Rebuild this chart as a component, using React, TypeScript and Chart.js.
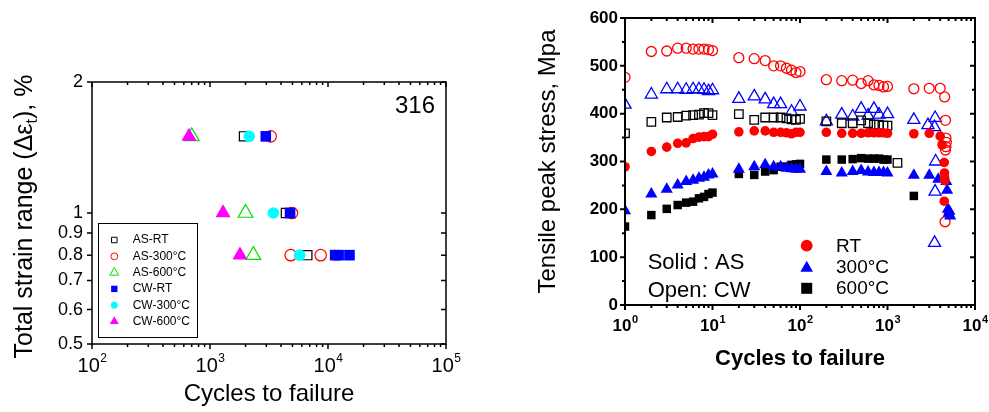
import React, { useEffect, useRef } from "react";
import { Chart, registerables } from "chart.js";

Chart.register(...registerables);

const FONT = "'Liberation Sans', Arial, Helvetica, sans-serif";

// ================= Left panel: total strain range vs cycles to failure (316) =================
const leftPanelLabel = "316";
const leftXTicks = [100, 1000, 10000, 100000];
const leftYTicks = [0.5, 0.6, 0.7, 0.8, 0.9, 1, 2];
const leftYTickLabels = ["0.5", "0.6", "0.7", "0.8", "0.9", "1", "2"];
const leftXTitle = "Cycles to failure";

const leftAsRtCycles = [1940, 4400, 6680];
const leftAsRtStrain = [1.5, 1.0, 0.8];
const leftAs300Cycles = [3270, 4950, 4830, 8670];
const leftAs300Strain = [1.5, 1.0, 0.8, 0.8];
const leftAs600Cycles = [700, 2000, 2330];
const leftAs600Strain = [1.5, 1.0, 0.8];
const leftCwRtCycles = [2970, 4770, 11500, 12300, 15200];
const leftCwRtStrain = [1.5, 1.0, 0.8, 0.8, 0.8];
const leftCw300Cycles = [2150, 3440, 5750];
const leftCw300Strain = [1.5, 1.0, 0.8];
const leftCw600Cycles = [664, 1290, 1795];
const leftCw600Strain = [1.5, 1.0, 0.8];

// ================= Right panel: tensile peak stress vs cycles =================
const rightXTicks = [1, 10, 100, 1000, 10000];
const rightYTicks = [0, 100, 200, 300, 400, 500, 600];
const rightYMinor = [50, 150, 250, 350, 450, 550];
const rightXTitle = "Cycles to failure";
const rightYTitle = "Tensile peak stress, Mpa";
const rightLegendLabels = ["RT", "300°C", "600°C"];
const rightNoteLines = ["Solid : AS", "Open: CW"];

// Solid (AS)
const peakAsRtN = [1, 2, 3, 4, 5, 6, 7, 8, 9, 10, 20, 30, 40, 50, 60, 70, 80, 90, 100, 200, 300, 400, 500, 600, 700, 800, 900, 1000, 2000, 3000, 4000, 4200, 4450, 4480, 4500, 4520, 4450];
const peakAsRtStress = [289, 321, 330, 338, 339, 348, 351, 352, 352, 357, 362, 364, 364, 361, 361, 360, 358, 361, 361, 361, 359, 359, 359, 360, 360, 360, 360, 359, 358, 359, 353, 335, 298, 276, 266, 260, 217];
const peakAs300N = [1, 2, 3, 4, 5, 6, 7, 8, 9, 10, 20, 30, 40, 50, 60, 70, 80, 90, 100, 200, 300, 400, 500, 600, 700, 800, 900, 1000, 2000, 3000, 3800, 4700, 4800, 4900, 5000, 5200, 5100];
const peakAs300Stress = [197, 232, 242, 251, 258, 261, 265, 267, 272, 274, 284, 289, 293, 289, 289, 286, 285, 284, 284, 279, 276, 279, 281, 278, 277, 277, 277, 276, 271, 271, 263, 258, 240, 200, 192, 186, 196];
const peakAs600N = [1, 2, 3, 4, 5, 6, 7, 8, 9, 10, 20, 30, 40, 50, 60, 70, 80, 90, 100, 200, 300, 400, 500, 600, 700, 800, 900, 1000, 2000];
const peakAs600Stress = [164, 188, 201, 209, 214, 216, 223, 226, 232, 235, 274, 272, 279, 282, 289, 289, 293, 294, 295, 304, 304, 305, 307, 306, 306, 306, 304, 304, 228];
// Open (CW)
const peakCwRtN = [1, 2, 3, 4, 5, 6, 7, 8, 9, 10, 20, 30, 40, 50, 60, 70, 80, 90, 100, 200, 300, 400, 500, 600, 700, 800, 900, 1000, 2000, 3000, 4000, 4500, 4600, 4650, 4700, 4650, 4600, 4550];
const peakCwRtStress = [476, 530, 531, 537, 537, 535, 535, 535, 534, 532, 517, 515, 511, 500, 500, 495, 491, 486, 488, 471, 469, 470, 463, 469, 460, 459, 456, 457, 452, 453, 453, 435, 386, 349, 340, 331, 324, 174];
const peakCw300N = [1, 2, 3, 4, 5, 6, 7, 8, 9, 10, 20, 30, 40, 50, 60, 80, 100, 200, 300, 400, 500, 600, 700, 800, 1000, 2000, 2900, 3500, 3450, 3550, 3500, 3450];
const peakCw300Stress = [419, 440, 451, 451, 450, 451, 451, 450, 447, 449, 431, 436, 430, 420, 420, 404, 415, 384, 398, 394, 410, 396, 410, 398, 399, 387, 376, 391, 372, 300, 237, 130];
const peakCw600N = [1, 2, 3, 4, 5, 6, 7, 8, 9, 10, 20, 30, 40, 50, 60, 70, 80, 90, 100, 200, 300, 400, 500, 600, 700, 800, 900, 1000, 1300];
const peakCw600Stress = [359, 383, 392, 393, 396, 397, 398, 401, 401, 397, 399, 387, 392, 392, 392, 390, 388, 387, 389, 384, 380, 380, 386, 380, 377, 377, 375, 375, 297];

// ---------------- helpers ----------------
function pts(xs: number[], ys: number[]) {
  return xs.map((x, i) => ({ x, y: ys[i] }));
}

function logMinor(min: number, max: number) {
  const out: number[] = [];
  for (let d = min; d < max; d *= 10) for (let k = 2; k <= 9; k++) out.push(d * k);
  return out;
}

function drawMarker(ctx: CanvasRenderingContext2D, style: string, x: number, y: number, r: number, fill: string | null, stroke: string, lw: number) {
  ctx.beginPath();
  if (style === "circle") {
    ctx.arc(x, y, r, 0, Math.PI * 2);
  } else if (style === "rect") {
    const s = r * Math.SQRT1_2;
    ctx.rect(x - s, y - s, 2 * s, 2 * s);
  } else {
    let rad = 0;
    ctx.moveTo(x + Math.sin(rad) * r, y - Math.cos(rad) * r);
    rad += (2 * Math.PI) / 3;
    ctx.lineTo(x + Math.sin(rad) * r, y - Math.cos(rad) * r);
    rad += (2 * Math.PI) / 3;
    ctx.lineTo(x + Math.sin(rad) * r, y - Math.cos(rad) * r);
    ctx.closePath();
  }
  if (fill) {
    ctx.fillStyle = fill;
    ctx.fill();
  }
  if (lw > 0) {
    ctx.lineWidth = lw;
    ctx.strokeStyle = stroke;
    ctx.stroke();
  }
}

type FrameCfg = {
  xMajor: number[];
  xMinor: number[];
  yMajor: number[];
  yMinor: number[];
  lw: number;
  major: number;
  minor: number;
  labelFont: string;
  supFont: string;
  labelBase: number;
  supBase: number;
};

function framePlugin(id: string, c: FrameCfg) {
  return {
    id,
    afterDatasetsDraw(chart: any) {
      const { ctx, chartArea: a, scales } = chart;
      const xs = scales.x;
      const ys = scales.y;
      ctx.save();
      ctx.strokeStyle = "#000";
      ctx.lineWidth = c.lw;
      ctx.strokeRect(a.left, a.top, a.right - a.left, a.bottom - a.top);
      ctx.beginPath();
      const xt = (v: number, len: number) => {
        const p = xs.getPixelForValue(v);
        ctx.moveTo(p, a.bottom);
        ctx.lineTo(p, a.bottom + len);
        ctx.moveTo(p, a.top);
        ctx.lineTo(p, a.top + len);
      };
      const yt = (v: number, len: number) => {
        const p = ys.getPixelForValue(v);
        ctx.moveTo(a.left, p);
        ctx.lineTo(a.left - len, p);
        ctx.moveTo(a.right, p);
        ctx.lineTo(a.right - len, p);
      };
      c.xMajor.forEach((v) => xt(v, c.major));
      c.xMinor.forEach((v) => xt(v, c.minor));
      c.yMajor.forEach((v) => yt(v, c.major));
      c.yMinor.forEach((v) => yt(v, c.minor));
      ctx.stroke();

      ctx.fillStyle = "#000";
      ctx.textBaseline = "alphabetic";
      ctx.textAlign = "left";
      c.xMajor.forEach((v) => {
        const p = xs.getPixelForValue(v);
        const exp = String(Math.round(Math.log10(v)));
        ctx.font = c.labelFont;
        const w1 = ctx.measureText("10").width;
        ctx.font = c.supFont;
        const w2 = ctx.measureText(exp).width;
        const x0 = p - (w1 + w2) / 2;
        ctx.font = c.labelFont;
        ctx.fillText("10", x0, c.labelBase);
        ctx.font = c.supFont;
        ctx.fillText(exp, x0 + w1 + 0.5, c.supBase);
      });
      ctx.restore();
    },
  };
}

function leftConfig(): any {
  const series = [
    { label: "AS-RT", n: leftAsRtCycles, s: leftAsRtStrain, style: "rect", color: "#000000", filled: false, r: 6.5, order: 2 },
    { label: "AS-300°C", n: leftAs300Cycles, s: leftAs300Strain, style: "circle", color: "#FF0000", filled: false, r: 5.7, order: 2 },
    { label: "AS-600°C", n: leftAs600Cycles, s: leftAs600Strain, style: "triangle", color: "#00E000", filled: false, r: 8.5, order: 2 },
    { label: "CW-RT", n: leftCwRtCycles, s: leftCwRtStrain, style: "rect", color: "#0000FF", filled: true, r: 7.5, order: 1 },
    { label: "CW-300°C", n: leftCw300Cycles, s: leftCw300Strain, style: "circle", color: "#00FFFF", filled: true, r: 5.8, order: 1 },
    { label: "CW-600°C", n: leftCw600Cycles, s: leftCw600Strain, style: "triangle", color: "#FF00FF", filled: true, r: 8.7, order: 1 },
  ];
  const datasets = series.map((s) => ({
    label: s.label,
    data: pts(s.n, s.s),
    pointStyle: s.style,
    pointRadius: s.r,
    pointBackgroundColor: s.filled ? s.color : "rgba(0,0,0,0)",
    pointBorderColor: s.color,
    pointBorderWidth: s.filled ? 0 : 1.2,
    showLine: false,
    order: s.order,
    clip: 0,
  }));

  const annot = {
    id: "leftAnnot",
    afterDatasetsDraw(chart: any) {
      const { ctx } = chart;
      ctx.save();
      ctx.fillStyle = "#000";
      ctx.font = `24px ${FONT}`;
      ctx.textAlign = "right";
      ctx.textBaseline = "alphabetic";
      ctx.fillText(leftPanelLabel, 435, 113);

      // legend box
      ctx.lineWidth = 1;
      ctx.strokeStyle = "#000";
      ctx.strokeRect(98.5, 223.5, 99, 114);
      ctx.font = `12px ${FONT}`;
      ctx.textAlign = "left";
      ctx.textBaseline = "middle";
      chart.data.datasets.forEach((ds: any, i: number) => {
        const y = 240 + i * 16.3;
        const filled = ds.pointBorderWidth === 0;
        drawMarker(ctx, ds.pointStyle, 114.3, y, ds.pointRadius * 0.6, filled ? ds.pointBackgroundColor : null, ds.pointBorderColor, filled ? 0 : 1);
        ctx.fillStyle = "#000";
        ctx.fillText(ds.label, 132.7, y);
      });

      // y-axis title with subscript
      const main = `25px ${FONT}`;
      const sub = `16px ${FONT}`;
      const parts: [string, string, number][] = [
        ["Total strain range (Δε", main, 0],
        ["t", sub, 5],
        ["), %", main, 0],
      ];
      let total = 0;
      parts.forEach(([t, f]) => {
        ctx.font = f;
        total += ctx.measureText(t).width;
      });
      ctx.translate(32, 216.5);
      ctx.rotate(-Math.PI / 2);
      ctx.textAlign = "left";
      ctx.textBaseline = "alphabetic";
      let x = -total / 2;
      parts.forEach(([t, f, dy]) => {
        ctx.font = f;
        ctx.fillText(t, x, dy);
        x += ctx.measureText(t).width;
      });
      ctx.restore();
    },
  };

  return {
    type: "scatter",
    data: { datasets },
    options: {
      responsive: false,
      devicePixelRatio: 1,
      animation: false,
      events: [],
      layout: { padding: { left: 0, right: 44, top: 82, bottom: 0 } },
      plugins: { legend: { display: false }, tooltip: { enabled: false } },
      scales: {
        x: {
          type: "logarithmic",
          min: 100,
          max: 100000,
          bounds: "data",
          afterBuildTicks: (sc: any) => {
            sc.ticks = leftXTicks.map((v) => ({ value: v }));
          },
          ticks: { display: false },
          grid: { display: false, drawTicks: false },
          border: { display: false },
          title: { display: true, text: leftXTitle, color: "#000", font: { family: FONT, size: 24 }, padding: { top: 0, bottom: 3 } },
          afterFit: (sc: any) => {
            sc.height = 68;
          },
        },
        y: {
          type: "logarithmic",
          min: 0.5,
          max: 2,
          bounds: "data",
          afterBuildTicks: (sc: any) => {
            sc.ticks = leftYTicks.map((v) => ({ value: v }));
          },
          ticks: {
            autoSkip: false,
            color: "#000",
            padding: 9,
            font: { family: FONT, size: 18 },
            callback: (_v: any, i: number) => leftYTickLabels[i],
          },
          grid: { display: false, drawTicks: false },
          border: { display: false },
          afterFit: (sc: any) => {
            sc.width = 92;
          },
        },
      },
    },
    plugins: [
      framePlugin("leftFrame", {
        xMajor: leftXTicks,
        xMinor: logMinor(100, 100000),
        yMajor: leftYTicks,
        yMinor: [],
        lw: 1.5,
        major: 5,
        minor: 3,
        labelFont: `20px ${FONT}`,
        supFont: `12px ${FONT}`,
        labelBase: 371.5,
        supBase: 362,
      }),
      annot,
    ],
  };
}

function rightConfig(): any {
  const series = [
    { label: "AS-RT", n: peakAsRtN, s: peakAsRtStress, style: "circle", color: "#FF0000", filled: true, r: 4.8, order: 1 },
    { label: "AS-300°C", n: peakAs300N, s: peakAs300Stress, style: "triangle", color: "#0000FF", filled: true, r: 7, order: 2 },
    { label: "AS-600°C", n: peakAs600N, s: peakAs600Stress, style: "rect", color: "#000000", filled: true, r: 6, order: 3 },
    { label: "CW-RT", n: peakCwRtN, s: peakCwRtStress, style: "circle", color: "#FF0000", filled: false, r: 5, order: 5 },
    { label: "CW-300°C", n: peakCw300N, s: peakCw300Stress, style: "triangle", color: "#0000FF", filled: false, r: 7, order: 6 },
    { label: "CW-600°C", n: peakCw600N, s: peakCw600Stress, style: "rect", color: "#000000", filled: false, r: 6, order: 4 },
  ];
  const datasets = series.map((s) => ({
    label: s.label,
    data: pts(s.n, s.s),
    pointStyle: s.style,
    pointRadius: s.r,
    pointBackgroundColor: s.filled ? s.color : "rgba(0,0,0,0)",
    pointBorderColor: s.color,
    pointBorderWidth: s.filled ? 0 : 1.3,
    showLine: false,
    order: s.order,
    clip: 0,
  }));

  const annot = {
    id: "rightAnnot",
    afterDatasetsDraw(chart: any) {
      const { ctx } = chart;
      ctx.save();
      ctx.fillStyle = "#000";
      ctx.textAlign = "left";
      ctx.textBaseline = "alphabetic";
      ctx.font = `22px ${FONT}`;
      ctx.fillText(rightNoteLines[0], 157.7, 269);
      ctx.fillText(rightNoteLines[1], 157.7, 296.5);

      const legendY = [245.7, 268, 288.3];
      const legendR = [5.9, 7.3, 7.8];
      const legendBase = [252.3, 272.7, 294];
      [0, 1, 2].forEach((i) => {
        const ds = chart.data.datasets[i];
        drawMarker(ctx, ds.pointStyle, 316.7, legendY[i], legendR[i], ds.pointBackgroundColor, ds.pointBorderColor, 0);
        ctx.fillStyle = "#000";
        ctx.font = `19px ${FONT}`;
        ctx.fillText(rightLegendLabels[i], 346, legendBase[i]);
      });
      ctx.restore();
    },
  };

  return {
    type: "scatter",
    data: { datasets },
    options: {
      responsive: false,
      devicePixelRatio: 1,
      animation: false,
      events: [],
      layout: { padding: { left: 0, right: 14, top: 18, bottom: 0 } },
      plugins: { legend: { display: false }, tooltip: { enabled: false } },
      scales: {
        x: {
          type: "logarithmic",
          min: 1,
          max: 10000,
          bounds: "data",
          afterBuildTicks: (sc: any) => {
            sc.ticks = rightXTicks.map((v) => ({ value: v }));
          },
          ticks: { display: false },
          grid: { display: false, drawTicks: false },
          border: { display: false },
          title: { display: true, text: rightXTitle, color: "#000", font: { family: FONT, size: 22, weight: "bold" }, padding: { top: 0, bottom: 40 } },
          afterFit: (sc: any) => {
            sc.height = 107;
          },
        },
        y: {
          type: "linear",
          min: 0,
          max: 600,
          bounds: "data",
          afterBuildTicks: (sc: any) => {
            sc.ticks = rightYTicks.map((v) => ({ value: v }));
          },
          ticks: {
            autoSkip: false,
            color: "#000",
            padding: 7,
            font: { family: FONT, size: 17, weight: "bold" },
            callback: (v: any) => String(v),
          },
          grid: { display: false, drawTicks: false },
          border: { display: false },
          title: { display: true, text: rightYTitle, color: "#000", font: { family: FONT, size: 24 }, padding: { top: 44, bottom: 0 } },
          afterFit: (sc: any) => {
            sc.width = 135;
          },
        },
      },
    },
    plugins: [
      framePlugin("rightFrame", {
        xMajor: rightXTicks,
        xMinor: logMinor(1, 10000),
        yMajor: rightYTicks,
        yMinor: rightYMinor,
        lw: 2,
        major: 5,
        minor: 3,
        labelFont: `bold 17px ${FONT}`,
        supFont: `bold 11px ${FONT}`,
        labelBase: 330.7,
        supBase: 322.7,
      }),
      annot,
    ],
  };
}

export default function App() {
  const leftRef = useRef<HTMLCanvasElement>(null);
  const rightRef = useRef<HTMLCanvasElement>(null);

  useEffect(() => {
    const c1 = new Chart(leftRef.current as HTMLCanvasElement, leftConfig());
    const c2 = new Chart(rightRef.current as HTMLCanvasElement, rightConfig());
    return () => {
      c1.destroy();
      c2.destroy();
    };
  }, []);

  return (
    <div style={{ position: "absolute", left: 0, top: 0, width: 989, height: 412, background: "#fff" }}>
      <canvas ref={leftRef} width={490} height={412} style={{ position: "absolute", left: 0, top: 0, width: 490, height: 412 }} />
      <canvas ref={rightRef} width={499} height={412} style={{ position: "absolute", left: 490, top: 0, width: 499, height: 412 }} />
    </div>
  );
}
